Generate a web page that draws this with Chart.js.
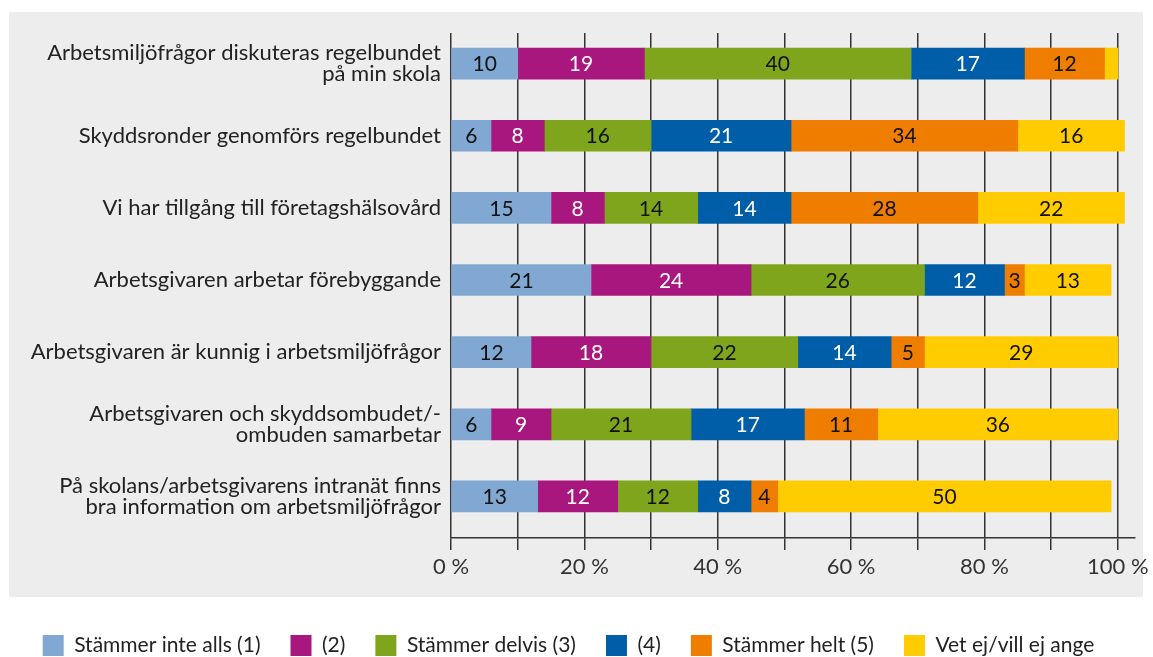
<!DOCTYPE html>
<html>
<head>
<meta charset="utf-8">
<script src="https://cdn.jsdelivr.net/npm/chart.js@4.4.1/dist/chart.umd.min.js"></script>
<style>
  html, body { margin: 0; padding: 0; background: #fff; overflow: hidden; }
  #wrap { width: 1153px; height: 666px; }
</style>
</head>
<body>
<div id="wrap"><canvas id="myChart" width="1153" height="666"></canvas></div>
<script>
var statements = [
    ['Arbetsmiljöfrågor diskuteras regelbundet', 'på min skola'],
    'Skyddsronder genomförs regelbundet',
    'Vi har tillgång till företagshälsovård',
    'Arbetsgivaren arbetar förebyggande',
    'Arbetsgivaren är kunnig i arbetsmiljöfrågor',
    ['Arbetsgivaren och skyddsombudet/-', 'ombuden samarbetar'],
    ['På skolans/arbetsgivarens intranät finns', 'bra information om arbetsmiljöfrågor']
]

var answers = ['Stämmer inte alls (1)', '(2)', 'Stämmer delvis (3)', '(4)', 'Stämmer helt (5)', 'Vet ej/vill ej ange']
var colors = ['#80a8d2', '#a8177e', '#7fa51d', '#005ea9', '#ef7d00', '#ffcc00']
var textColors = ['#111', '#fff', '#111', '#fff', '#111', '#111']

var valuesNotAtAll = [10, 6, 15, 21, 12, 6, 13]
var values2 = [19, 8, 8, 24, 18, 9, 12]
var valuesPartly = [40, 16, 14, 26, 22, 21, 12]
var values4 = [17, 21, 14, 12, 14, 17, 8]
var valuesFully = [12, 34, 28, 3, 5, 11, 4]
var valuesDontKnow = [2, 16, 22, 13, 29, 36, 50]

var xTicks = [0, 10, 20, 30, 40, 50, 60, 70, 80, 90, 100]

var allValues = [valuesNotAtAll, values2, valuesPartly, values4, valuesFully, valuesDontKnow]
var FONT = 'Lato'

var datasets = allValues.map(function (vals, k) {
    return {
        label: answers[k],
        backgroundColor: colors[k],
        borderWidth: 0,
        barThickness: 31,
        stack: 'all',
        data: vals.map(function (v, i) { return { x: v, y: i } })
    }
})

var panelBg = {
    id: 'panelBg',
    beforeDraw: function (chart) {
        var ctx = chart.ctx
        ctx.save()
        ctx.fillStyle = '#ededed'
        ctx.fillRect(9, 12, 1134, 585)
        ctx.restore()
    }
}

var barValues = {
    id: 'barValues',
    afterDatasetsDraw: function (chart) {
        var ctx = chart.ctx
        ctx.save()
        ctx.font = '21px ' + FONT
        ctx.textAlign = 'center'
        ctx.textBaseline = 'middle'
        chart.data.datasets.forEach(function (ds, k) {
            chart.getDatasetMeta(k).data.forEach(function (bar, i) {
                var v = ds.data[i].x
                if (v < 3) return
                ctx.fillStyle = textColors[k]
                ctx.fillText(String(v), (bar.x + bar.base) / 2, bar.y + 1)
            })
        })
        ctx.restore()
    }
}

chart = new Chart('myChart', {
    type: 'bar',
    data: { datasets: datasets },
    plugins: [panelBg, barValues],
    options: {
        indexAxis: 'y',
        responsive: false,
        animation: false,
        layout: { padding: { left: 0, right: 16, top: 33, bottom: 0 } },
        plugins: {
            tooltip: { enabled: false },
            legend: {
                position: 'bottom',
                labels: {
                    boxWidth: 21,
                    boxHeight: 21,
                    padding: 30,
                    color: '#222',
                    font: { family: FONT, size: 21 }
                }
            }
        },
        scales: {
            x: {
                type: 'linear',
                stacked: true,
                min: 0,
                max: 102.5,
                afterBuildTicks: function (scale) {
                    scale.ticks = xTicks.map(function (v) { return { value: v } })
                },
                afterFit: function (scale) { scale.height = 67 },
                grid: { color: '#333', lineWidth: 1.5, tickLength: 12, drawOnChartArea: true },
                border: { display: true, color: '#333', width: 1.5 },
                ticks: {
                    autoSkip: false,
                    maxRotation: 0,
                    padding: 4,
                    color: '#333',
                    font: { family: FONT, size: 22 },
                    callback: function (v) { return v % 20 === 0 ? v + ' %' : '' }
                }
            },
            y: {
                type: 'linear',
                reverse: true,
                offset: false,
                bounds: 'data',
                afterDataLimits: function (scale) {
                    scale.min = -0.424
                    scale.max = 6.576
                },
                afterBuildTicks: function (scale) {
                    scale.ticks = statements.map(function (s, i) { return { value: i } })
                },
                afterFit: function (scale) { scale.width = 451 },
                grid: { display: false, drawTicks: false, offset: false },
                border: { display: false },
                ticks: {
                    autoSkip: false,
                    padding: 10,
                    color: '#222',
                    font: { family: FONT, size: 22, lineHeight: 0.95 },
                    callback: function (v) { return statements[v] }
                }
            }
        }
    }
})
</script>
</body>
</html>
